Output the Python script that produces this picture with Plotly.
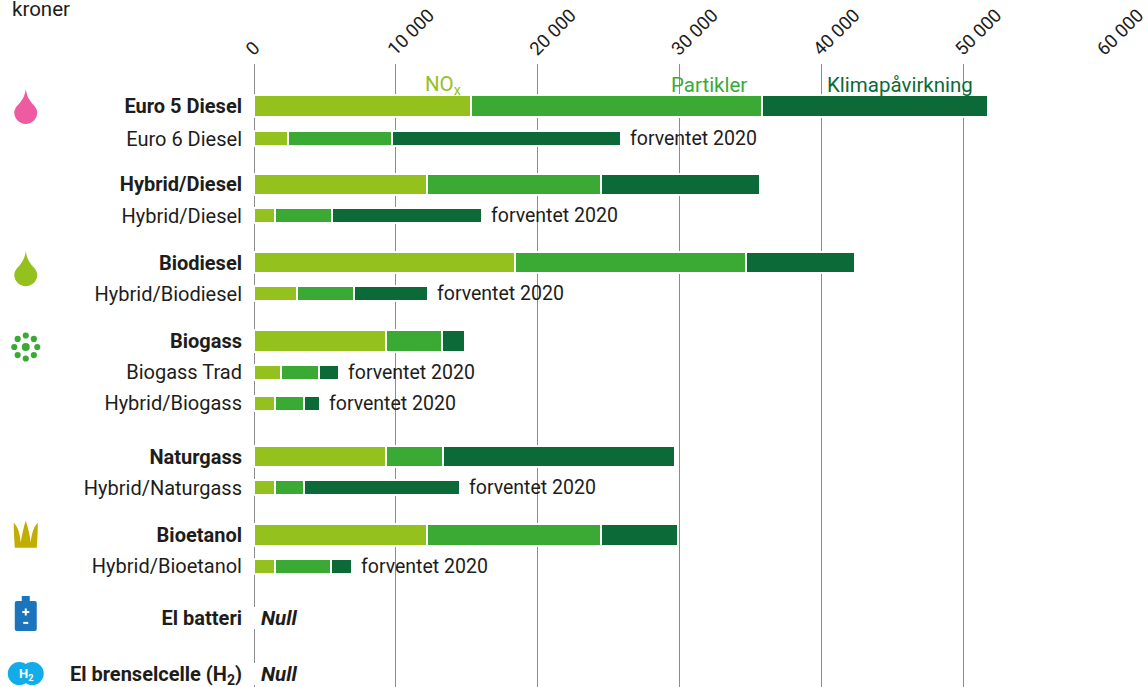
import plotly.graph_objects as go

# ---------- data ----------
categories = ["Euro 5 Diesel", "Euro 6 Diesel", "Hybrid/Diesel", "Hybrid/Diesel", "Biodiesel",
              "Hybrid/Biodiesel", "Biogass", "Biogass Trad", "Hybrid/Biogass", "Naturgass",
              "Hybrid/Naturgass", "Bioetanol", "Hybrid/Bioetanol", "El batteri", "El brenselcelle (H<sub>2</sub>)"]
is_main = [True, False, True, False, True, False, True, False, False, True, False, True, False, True, True]
nox =      [15300, 2400, 12200, 1500, 18400, 3050, 9300, 1900, 1500, 9300, 1500, 12200, 1500, 0, 0]
partikler = [20550, 7350, 12250, 4000, 16300, 4000, 3950, 2700, 2000, 4000, 2000, 12250, 3950, 0, 0]
klima =    [15900, 16100, 11250, 10550, 7650, 5200, 1650, 1400, 1150, 16400, 11000, 5450, 1450, 0, 0]
expected = [False, True, False, True, False, True, False, True, True, False, True, False, True, False, False]
x_ticks = [0, 10000, 20000, 30000, 40000, 50000, 60000]
x_labels = ["0", "10 000", "20 000", "30 000", "40 000", "50 000", "60 000"]
series_names = ["NO<sub>x</sub>", "Partikler", "Klimapåvirkning"]

# ---------- layout of rows (row units, groups separated by gaps) ----------
slots = [0, 1.05, 2.5, 3.5, 5, 6, 7.5, 8.5, 9.5, 11.2, 12.2, 13.7, 14.7, 16.35, 18.15]
Y_TOP, Y_BOTTOM = -1.342, 18.562
W, H = 1148, 687
LEFT, RIGHT = 253.5, 42.5
TOP, BOTTOM = 64, 0
PLOT_W = W - LEFT - RIGHT

COL = ["#95C11F", "#3AAA35", "#0B6A37"]
TXT = "#1d1d1b"
FONT = "Roboto"
FS = 19.5

widths = [0.687 if m else 0.48 for m in is_main]
fig = go.Figure()
for name, vals, col in zip(series_names, [nox, partikler, klima], COL):
    fig.add_trace(go.Bar(y=slots, x=vals, name=name, orientation="h", width=widths,
                         marker=dict(color=col, line=dict(color="#ffffff", width=2.5)),
                         showlegend=False))

annotations = []
totals = [a + b + c for a, b, c in zip(nox, partikler, klima)]
for s, t, e in zip(slots, totals, expected):
    if e:
        annotations.append(dict(x=t, y=s, xref="x", yref="y", text="forventet 2020", showarrow=False,
                                xanchor="left", xshift=7, font=dict(family=FONT, size=FS, color=TXT)))
    if t == 0:
        annotations.append(dict(x=0, y=s, xref="x", yref="y", text="<b><i>Null</i></b>", showarrow=False,
                                xanchor="left", xshift=5, font=dict(family=FONT, size=20.5, color=TXT)))

# series headings above first bar
for name, xpos, col in zip(series_names, [11900, 29230, 40230], COL):
    annotations.append(dict(x=xpos, y=-0.66, xref="x", yref="y", text=name, showarrow=False,
                            xanchor="left", font=dict(family=FONT, size=20.5, color=col)))
annotations.append(dict(x=(9 - LEFT) / PLOT_W, y=1 + (TOP - 9) / (H - TOP - BOTTOM), xref="paper", yref="paper",
                        text="kroner", showarrow=False, xanchor="left", yanchor="middle",
                        font=dict(family=FONT, size=20.5, color=TXT)))

# ---------- icons ----------
IX = (25 - LEFT) / PLOT_W
icon_slots = dict(diesel=0, biodiesel=5.18, biogas=7.7, etanol=13.7, battery=16.29, hydrogen=18.15)
shapes = []
drop = "M 0,17 C 1,10 3,7 6,3 C 10,-1 11.5,-4 11.5,-6.5 C 11.5,-13 6,-18 0,-18 C -6,-18 -11.5,-13 -11.5,-6.5 C -11.5,-4 -10,-1 -6,3 C -3,7 -1,10 0,17 Z"
def add_path(path, col, slot):
    shapes.append(dict(type="path", path=path, xref="paper", yref="y", xsizemode="pixel", ysizemode="pixel",
                       xanchor=IX, yanchor=slot, fillcolor=col, line=dict(width=0)))
def add_circle(cx, cy, r, col, slot):
    shapes.append(dict(type="circle", xref="paper", yref="y", xsizemode="pixel", ysizemode="pixel",
                       xanchor=IX, yanchor=slot, x0=cx - r, x1=cx + r, y0=cy - r, y1=cy + r,
                       fillcolor=col, line=dict(width=0)))
add_path(drop, "#EE5BA0", icon_slots["diesel"])
add_path(drop, "#95C11F", icon_slots["biodiesel"])
# biogas
add_circle(0, 0, 4, "#3AAA35", icon_slots["biogas"])
for dx, dy in [(0, 11.5), (8.1, 8.1), (11.5, 0), (8.1, -8.1), (0, -11.5), (-8.1, -8.1), (-11.5, 0), (-8.1, 8.1)]:
    add_circle(dx, dy, 3.1, "#3AAA35", icon_slots["biogas"])
# crown
add_path("M -11,-13 L 11,-13 L 11.5,-5 C 12,2 12,8 12,12 C 9,9 6,4 5,-8 C 4,0 2,8 0,14 "
         "C -2,8 -4,0 -5,-8 C -6,4 -9,9 -12,12 C -12,8 -12,2 -11.5,-5 Z", "#C2AE00", icon_slots["etanol"])
# battery
add_path("M -11,-13 Q -11,-15 -9,-15 L 9,-15 Q 11,-15 11,-13 L 11,13 Q 11,15 9,15 L 4,15 L 4,20 L -4,20 L -4,15 "
         "L -9,15 Q -11,15 -11,13 Z", "#1C75BC", icon_slots["battery"])
add_path("M -3.5,3 L -1,3 L -1,0.5 L 1,0.5 L 1,3 L 3.5,3 L 3.5,5 L 1,5 L 1,7.5 L -1,7.5 L -1,5 L -3.5,5 Z", "#ffffff", icon_slots["battery"])
add_path("M -2.5,-8 L 2.5,-8 L 2.5,-6 L -2.5,-6 Z", "#ffffff", icon_slots["battery"])
# hydrogen
add_circle(-6.5, 0.5, 11.5, "#12ADE8", icon_slots["hydrogen"])
add_circle(6.5, 0.5, 11.5, "#12ADE8", icon_slots["hydrogen"])
annotations.append(dict(x=IX, y=icon_slots["hydrogen"], xref="paper", yref="y", text="<b>H<sub>2</sub></b>",
                        showarrow=False, xanchor="center", font=dict(family=FONT, size=13, color="#ffffff")))

ticktext = [f"<b>{c}</b>" if m else c for c, m in zip(categories, is_main)]

fig.update_layout(
    width=W, height=H, autosize=False,
    margin=dict(l=LEFT, r=RIGHT, t=TOP, b=BOTTOM, pad=0, autoexpand=False),
    paper_bgcolor="#ffffff", plot_bgcolor="#ffffff",
    barmode="stack", bargap=0,
    font=dict(family=FONT, size=FS, color=TXT),
    annotations=annotations, shapes=shapes,
    xaxis=dict(range=[0, 60000], side="top", tickmode="array", tickvals=x_ticks, ticktext=x_labels,
               tickangle=-45, ticks="", ticklabelshift=-7, ticklabelstandoff=0, ticklabeloverflow="allow",
               showgrid=True, gridcolor="#8c8c8c", gridwidth=1, zeroline=True, zerolinecolor="#8c8c8c",
               zerolinewidth=1, showline=False, tickfont=dict(family=FONT, size=18.5, color=TXT)),
    yaxis=dict(range=[Y_BOTTOM, Y_TOP], tickmode="array", tickvals=slots, ticktext=ticktext,
               ticks="outside", ticklen=7, tickcolor="rgba(0,0,0,0)", showgrid=False, zeroline=False,
               ticklabeloverflow="allow",
               showline=False, tickfont=dict(family=FONT, size=20, color=TXT)),
)
fig.write_html("out.html", post_script="document.body.style.margin='0';", config=dict(displayModeBar=False))
